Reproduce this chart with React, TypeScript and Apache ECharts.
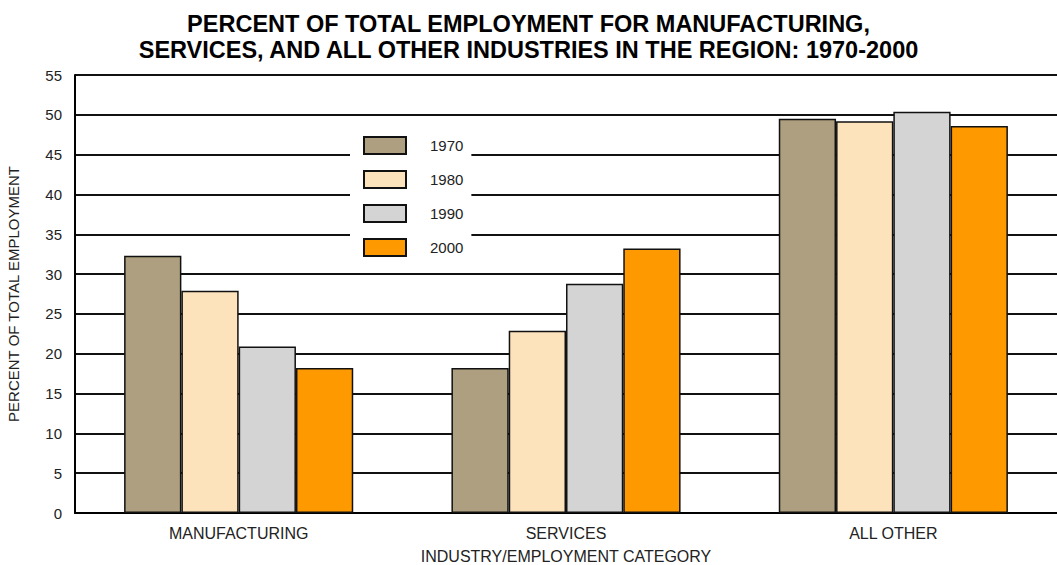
import React, { useEffect, useRef } from "react";
import * as echarts from "echarts";

const categories = ["MANUFACTURING", "SERVICES", "ALL OTHER"];
const years = ["1970", "1980", "1990", "2000"];
const values1970 = [32.3, 18.2, 49.5];
const values1980 = [27.9, 22.9, 49.2];
const values1990 = [20.9, 28.8, 50.4];
const values2000 = [18.2, 33.2, 48.6];
const colors = ["#ad9f7f", "#fde3bc", "#d4d4d4", "#ff9900"];

export default function App() {
  const ref = useRef<HTMLDivElement>(null);
  useEffect(() => {
    if (!ref.current) return;
    const chart = echarts.init(ref.current, null, { renderer: "svg" });
    const all = [values1970, values1980, values1990, values2000];
    chart.setOption({
      animation: false,
      backgroundColor: "#ffffff",
      title: {
        text: "PERCENT OF TOTAL EMPLOYMENT FOR MANUFACTURING,\nSERVICES, AND ALL OTHER INDUSTRIES IN THE REGION: 1970-2000",
        left: "center",
        top: 6,
        textStyle: {
          fontFamily: "Liberation Sans, Arial, sans-serif",
          fontWeight: "bold",
          fontSize: 23.5,
          lineHeight: 26,
          color: "#000",
        },
      },
      legend: {
        orient: "vertical",
        left: 350,
        top: 128,
        icon: "rect",
        itemWidth: 42,
        itemHeight: 17,
        itemGap: 15,
        padding: [8, 8, 8, 13],
        backgroundColor: "#ffffff",
        data: years,
        textStyle: {
          fontFamily: "Liberation Sans, Arial, sans-serif",
          fontSize: 15,
          color: "#222",
          padding: [0, 0, 0, 19],
        },
      },
      grid: {
        left: 75,
        right: 0,
        top: 75,
        bottom: 52,
        containLabel: false,
        outerBoundsMode: "none",
      },
      xAxis: {
        type: "category",
        data: categories,
        name: "INDUSTRY/EMPLOYMENT CATEGORY",
        nameLocation: "middle",
        nameGap: 35,
        nameTextStyle: {
          fontFamily: "Liberation Sans, Arial, sans-serif",
          fontSize: 16,
          color: "#222",
        },
        axisLine: { show: true, lineStyle: { color: "#000", width: 2 } },
        axisTick: { show: false },
        axisLabel: {
          margin: 12,
          fontFamily: "Liberation Sans, Arial, sans-serif",
          fontSize: 16,
          color: "#222",
        },
      },
      yAxis: {
        type: "value",
        min: 0,
        max: 55,
        interval: 5,
        name: "PERCENT OF TOTAL EMPLOYMENT",
        nameLocation: "middle",
        nameGap: 54,
        nameTextStyle: {
          fontFamily: "Liberation Sans, Arial, sans-serif",
          fontSize: 15,
          color: "#222",
        },
        axisLine: { show: true, lineStyle: { color: "#000", width: 2 } },
        axisTick: { show: false },
        axisLabel: {
          margin: 13,
          fontFamily: "Liberation Sans, Arial, sans-serif",
          fontSize: 15,
          color: "#222",
        },
        splitLine: { show: true, lineStyle: { color: "#111", width: 2 } },
      },
      series: years.map((y, i) => ({
        name: y,
        type: "bar",
        data: all[i],
        barGap: "0%",
        barCategoryGap: "30%",
        itemStyle: { color: colors[i], borderColor: "#111", borderWidth: 1.5 },
      })),
    });
    return () => chart.dispose();
  }, []);
  return (
    <div
      ref={ref}
      style={{ position: "fixed", left: 0, top: 0, width: 1057, height: 565 }}
    />
  );
}
